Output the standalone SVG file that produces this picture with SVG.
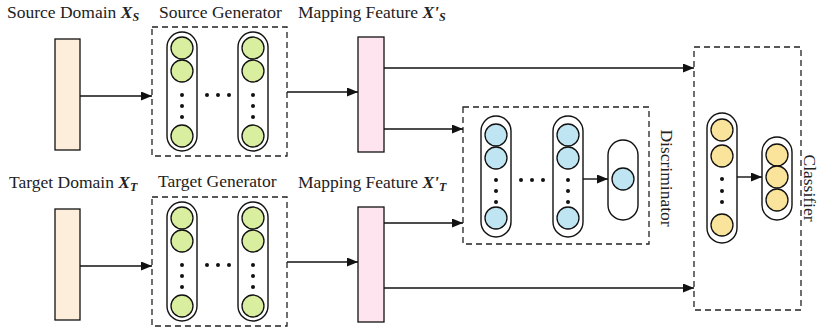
<svg xmlns="http://www.w3.org/2000/svg" width="820" height="333" viewBox="0 0 820 333">
<style>
text{font-family:"Liberation Serif","Times New Roman",serif;font-size:17.5px;fill:#222}
.bi{font-weight:bold;font-style:italic}
.sub{font-size:12px;font-weight:bold;font-style:italic}
.box{fill:none;stroke:#222;stroke-width:1.3;stroke-dasharray:6 4}
.pill{fill:#fff;stroke:#111;stroke-width:1.4}
.g{fill:#d9ee9e;stroke:#111;stroke-width:1.3}
.b{fill:#bfe4f2;stroke:#111;stroke-width:1.3}
.y{fill:#fae49b;stroke:#111;stroke-width:1.3}
.dot{fill:#111}
.in{fill:#fdeedb;stroke:#111;stroke-width:1.3}
.map{fill:#fde4ee;stroke:#111;stroke-width:1.3}
.c{fill:none;stroke:#111;stroke-width:1.4;marker-end:url(#ah)}
</style>
<defs>
<marker id="ah" markerUnits="userSpaceOnUse" markerWidth="12" markerHeight="10" refX="11" refY="4.5" orient="auto">
<path d="M0,0 L11,4.5 L0,9 z" fill="#111"/>
</marker>
<g id="genCol">
<rect class="pill" x="-15" y="0" width="30" height="119" rx="15"/>
<circle class="g" cx="0" cy="16" r="11"/>
<circle class="g" cx="0" cy="39" r="11"/>
<circle class="dot" cx="0" cy="63" r="2"/>
<circle class="dot" cx="0" cy="74" r="2"/>
<circle class="dot" cx="0" cy="85" r="2"/>
<circle class="g" cx="0" cy="104" r="11"/>
</g>
<g id="discCol">
<rect class="pill" x="-15" y="0" width="30" height="121" rx="15"/>
<circle class="b" cx="0" cy="19" r="11"/>
<circle class="b" cx="0" cy="42" r="11"/>
<circle class="dot" cx="0" cy="64" r="2"/>
<circle class="dot" cx="0" cy="75" r="2"/>
<circle class="dot" cx="0" cy="86" r="2"/>
<circle class="b" cx="0" cy="102" r="11"/>
</g>
</defs>

<g id="source-domain">
<text x="7" y="18">Source Domain <tspan class="bi">X</tspan><tspan class="sub" dy="3">S</tspan></text>
<rect class="in" x="55" y="39" width="25" height="111"/>
</g>
<g id="source-generator">
<text x="159" y="18">Source Generator</text>
<rect class="box" x="152" y="27" width="135" height="129"/>
<use href="#genCol" x="182" y="32"/>
<use href="#genCol" x="253" y="32"/>
<circle class="dot" cx="207" cy="95" r="2"/>
<circle class="dot" cx="218" cy="95" r="2"/>
<circle class="dot" cx="229" cy="95" r="2"/>
</g>
<g id="mapping-source">
<text x="298" y="18">Mapping Feature <tspan class="bi">X'</tspan><tspan class="sub" dy="3">S</tspan></text>
<rect class="map" x="358" y="37" width="26" height="115"/>
</g>

<g id="target-domain">
<text x="9" y="188">Target Domain <tspan class="bi">X</tspan><tspan class="sub" dy="3">T</tspan></text>
<rect class="in" x="55" y="209" width="25" height="111"/>
</g>
<g id="target-generator">
<text x="158" y="187">Target Generator</text>
<rect class="box" x="152" y="197" width="135" height="129"/>
<use href="#genCol" x="182" y="202"/>
<use href="#genCol" x="253" y="202"/>
<circle class="dot" cx="207" cy="265" r="2"/>
<circle class="dot" cx="218" cy="265" r="2"/>
<circle class="dot" cx="229" cy="265" r="2"/>
</g>
<g id="mapping-target">
<text x="298" y="188">Mapping Feature <tspan class="bi">X'</tspan><tspan class="sub" dy="3">T</tspan></text>
<rect class="map" x="358" y="207" width="26" height="115"/>
</g>

<g id="discriminator">
<rect class="box" x="463" y="107" width="186" height="137"/>
<use href="#discCol" x="496" y="116"/>
<use href="#discCol" x="568" y="116"/>
<circle class="dot" cx="521" cy="180" r="2"/>
<circle class="dot" cx="532" cy="180" r="2"/>
<circle class="dot" cx="543" cy="180" r="2"/>
<rect class="pill" x="608" y="140" width="30" height="80" rx="15"/>
<circle class="b" cx="623" cy="179" r="11"/>
<text transform="translate(661,178) rotate(90)" text-anchor="middle">Discriminator</text>
</g>

<g id="classifier">
<rect class="box" x="694" y="47" width="107" height="263"/>
<rect class="pill" x="707" y="113" width="30" height="130" rx="15"/>
<circle class="y" cx="722" cy="130" r="11"/>
<circle class="y" cx="722" cy="156" r="11"/>
<circle class="dot" cx="722" cy="179" r="2"/>
<circle class="dot" cx="722" cy="191" r="2"/>
<circle class="dot" cx="722" cy="202" r="2"/>
<circle class="y" cx="722" cy="225" r="11"/>
<rect class="pill" x="762" y="137" width="30" height="83" rx="15"/>
<circle class="y" cx="777" cy="155" r="11"/>
<circle class="y" cx="777" cy="177" r="11"/>
<circle class="y" cx="777" cy="200" r="11"/>
<text transform="translate(804,188) rotate(90)" text-anchor="middle">Classifier</text>
</g>

<g id="connectors">
<path class="c" d="M80,96 H152"/>
<path class="c" d="M287,92 H358"/>
<path class="c" d="M384,68 H694"/>
<path class="c" d="M384,129 H463"/>
<path class="c" d="M80,266 H152"/>
<path class="c" d="M287,262 H358"/>
<path class="c" d="M384,223 H463"/>
<path class="c" d="M384,288 H694"/>
<path class="c" d="M583,179 H608"/>
<path class="c" d="M737,177 H762"/>
</g>
</svg>
